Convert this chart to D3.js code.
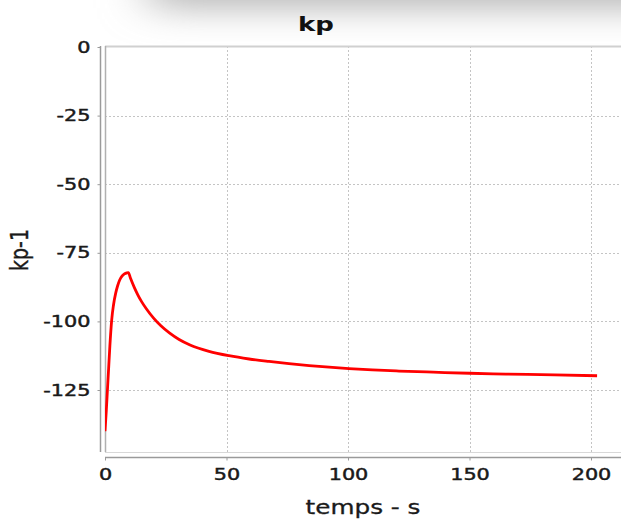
<!DOCTYPE html>
<html>
<head>
<meta charset="utf-8">
<script src="https://cdn.jsdelivr.net/npm/d3@7"></script>
<style>
  html, body { margin: 0; padding: 0; background: #fff; }
  svg { display: block; }
  text { font-family: "DejaVu Sans", sans-serif; }
</style>
</head>
<body>
<svg id="chart" width="621" height="521"></svg>
<script>
// ---- data ----
const chartTitle = "kp";
const xLabel = "temps - s";
const yLabel = "kp-1";
const xTicks = [0, 50, 100, 150, 200];
const yTicks = [0, -25, -50, -75, -100, -125];
const time = [0, 0.5, 1, 1.5, 2, 2.75, 3.5, 4.4, 5.2, 6, 7, 8, 9, 9.6, 10.5, 12, 13.5, 15, 17, 20, 23, 26.5, 30.5, 35, 42.8, 51, 59.3, 67.5, 75.7, 84, 92.2, 100.4, 110, 121, 135, 150, 165, 185, 202.5];
const kp   = [-140, -133, -125, -117, -109, -99.5, -94, -89.7, -87, -85, -83.5, -82.7, -82.3, -82.2, -84.3, -87.5, -90.3, -92.7, -95.4, -98.8, -101.6, -104.2, -106.6, -108.6, -110.9, -112.5, -113.7, -114.6, -115.4, -116.1, -116.7, -117.2, -117.7, -118.1, -118.5, -118.9, -119.2, -119.5, -119.8];

const svg = d3.select("#chart");
const W = 621, H = 521;
const plot = { left: 105, right: 622, top: 46, bottom: 452 };
const stretch = 1.3;
const inkStroke = 0.45;

// shadow at the top
const defs = svg.append("defs");
const f = defs.append("filter").attr("id", "blur")
  .attr("x", "-50%").attr("y", "-50%").attr("width", "200%").attr("height", "300%");
f.append("feGaussianBlur").attr("stdDeviation", "24 17");
svg.append("rect").attr("x", 150).attr("y", -80).attr("width", 700).attr("height", 88)
  .attr("fill", "#b6b6b6").attr("filter", "url(#blur)");

defs.append("clipPath").attr("id", "clip").append("rect")
  .attr("x", plot.left).attr("y", plot.top)
  .attr("width", plot.right - plot.left).attr("height", plot.bottom - plot.top);

const x = d3.scaleLinear().domain([0, 212.3]).range([105, 620.9]);
const y = d3.scaleLinear().domain([0, -125]).range([47, 390]);

// plot background
svg.append("rect").attr("x", plot.left).attr("y", plot.top)
  .attr("width", plot.right - plot.left).attr("height", plot.bottom - plot.top)
  .attr("fill", "#fff");

// grid
const grid = svg.append("g").attr("clip-path", "url(#clip)");
grid.selectAll("line.vx").data(xTicks.slice(1)).join("line")
  .attr("x1", d => Math.round(x(d)) + 0.5).attr("x2", d => Math.round(x(d)) + 0.5)
  .attr("y1", plot.top).attr("y2", plot.bottom)
  .attr("stroke", "#c4c4c4").attr("stroke-width", 1).attr("stroke-dasharray", "2,2");
grid.selectAll("line.hy").data(yTicks.slice(1)).join("line")
  .attr("y1", d => Math.round(y(d)) + 0.5).attr("y2", d => Math.round(y(d)) + 0.5)
  .attr("x1", plot.left).attr("x2", plot.right)
  .attr("stroke", "#c4c4c4").attr("stroke-width", 1).attr("stroke-dasharray", "2,2");

// plot border (light)
svg.append("line").attr("x1", plot.left).attr("x2", plot.right)
  .attr("y1", plot.top + 0.5).attr("y2", plot.top + 0.5)
  .attr("stroke", "#d0d0d0").attr("stroke-width", 2);
svg.append("line").attr("x1", plot.left + 0.5).attr("x2", plot.left + 0.5)
  .attr("y1", plot.top).attr("y2", plot.bottom)
  .attr("stroke", "#b0b0b0").attr("stroke-width", 1.5);
svg.append("line").attr("x1", plot.left).attr("x2", plot.right)
  .attr("y1", plot.bottom + 0.5).attr("y2", plot.bottom + 0.5)
  .attr("stroke", "#d8d8d8").attr("stroke-width", 1);

// curve
const line = d3.line().x((d, i) => x(time[i])).y((d, i) => y(kp[i])).curve(d3.curveMonotoneX);
svg.append("path").datum(kp).attr("clip-path", "url(#clip)")
  .attr("d", line).attr("fill", "none").attr("stroke", "#ff0000")
  .attr("stroke-width", 2.8).attr("stroke-linejoin", "round");

// axes
const fmt = d => String(d);
const yAxis = d3.axisLeft(y).tickValues(yTicks).tickFormat(fmt).tickSize(3).tickSizeOuter(0).tickPadding(6);
const gy = svg.append("g").attr("transform", "translate(100.5,0)").call(yAxis);
gy.select(".domain").attr("d", `M0,${plot.top}V${plot.bottom}`).attr("stroke", "#9a9a9a").attr("stroke-width", 1.5);
gy.selectAll(".tick line").attr("stroke", "#9a9a9a");
gy.selectAll(".tick text")
  .attr("font-size", 16).attr("fill", "#1a1a1a").attr("font-family", "DejaVu Sans")
  .attr("stroke", "#1a1a1a").attr("stroke-width", inkStroke)
  .attr("x", -10 / stretch).attr("transform", `scale(${stretch},1)`);

const xAxis = d3.axisBottom(x).tickValues(xTicks).tickFormat(fmt).tickSize(3).tickSizeOuter(0).tickPadding(8);
const gx = svg.append("g").attr("transform", "translate(0,457.5)").call(xAxis);
gx.select(".domain").attr("d", `M${plot.left},0H${W + 2}`).attr("stroke", "#9a9a9a").attr("stroke-width", 1.5);
gx.selectAll(".tick line").attr("stroke", "#9a9a9a");
gx.selectAll(".tick text")
  .attr("font-size", 16).attr("fill", "#1a1a1a").attr("font-family", "DejaVu Sans")
  .attr("stroke", "#1a1a1a").attr("stroke-width", inkStroke)
  .attr("transform", `scale(${stretch},1)`);

// title and labels
svg.append("text").attr("transform", `translate(316,31) scale(${stretch},1)`)
  .attr("text-anchor", "middle").attr("font-size", 20).attr("font-weight", "bold")
  .attr("fill", "#111").text(chartTitle);
svg.append("text").attr("transform", `translate(363,514) scale(${stretch},1)`)
  .attr("text-anchor", "middle").attr("font-size", 19)
  .attr("fill", "#1a1a1a").attr("stroke", "#1a1a1a").attr("stroke-width", 0.3).text(xLabel);
svg.append("text").attr("transform", `translate(28,250) rotate(-90) scale(1,${stretch})`)
  .attr("text-anchor", "middle").attr("font-size", 19)
  .attr("fill", "#1a1a1a").attr("stroke", "#1a1a1a").attr("stroke-width", 0.3).text(yLabel);
</script>
</body>
</html>
